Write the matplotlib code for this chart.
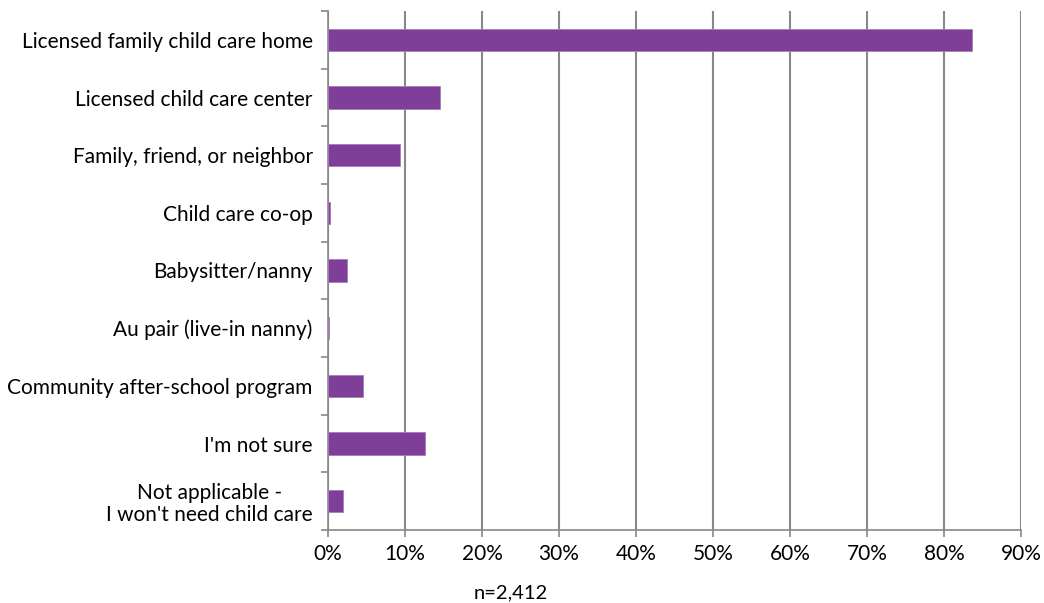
import matplotlib
matplotlib.use("Agg")
import matplotlib.pyplot as plt
import numpy as np

# survey responses (share of respondents)
categories = [
    "Licensed family child care home",
    "Licensed child care center",
    "Family, friend, or neighbor",
    "Child care co-op",
    "Babysitter/nanny",
    "Au pair (live-in nanny)",
    "Community after-school program",
    "I'm not sure",
    "Not applicable -\nI won't need child care",
]
values = [83.7, 14.5, 9.3, 0.3, 2.5, 0.1, 4.5, 12.6, 2.0]
xticks = np.arange(0, 91, 10)

plt.rcParams["font.family"] = ["Lato", "DejaVu Sans"]

fig = plt.figure(figsize=(10.44, 6.03), dpi=100)
ax = fig.add_axes([328 / 1044, 1 - 530 / 603, (1021 - 328) / 1044, (530 - 11) / 603])

y = np.arange(len(categories))
ax.barh(y, values, height=0.39, color="#7f3f98", edgecolor="#a87bbd", linewidth=0.6, zorder=3)

ax.set_xlim(0, 90)
ax.set_ylim(len(categories) - 0.5, -0.5)
ax.set_xticks(xticks)
ax.set_xticklabels([f"{v}%" for v in xticks], fontsize=15)
ax.set_yticks(y)
ax.set_yticklabels(categories, fontsize=15, multialignment="center", linespacing=1.1)
ax.set_yticks(np.arange(-0.5, len(categories)), minor=True)

ax.tick_params(axis="y", which="major", length=0, pad=11)
ax.tick_params(axis="y", which="minor", length=5, color="#888888", width=1.2)
ax.tick_params(axis="x", length=5, color="#888888", width=1.2, pad=5)

ax.grid(axis="x", color="#888888", linewidth=1.5, zorder=0)
for s in ["top", "right"]:
    ax.spines[s].set_visible(False)
for s in ["left", "bottom"]:
    ax.spines[s].set_color("#888888")
    ax.spines[s].set_linewidth(1.2)

fig.text(511 / 1044, 1 - 593 / 603, "n=2,412", ha="center", va="center", fontsize=14.5)

fig.savefig("out.png", dpi=100)
